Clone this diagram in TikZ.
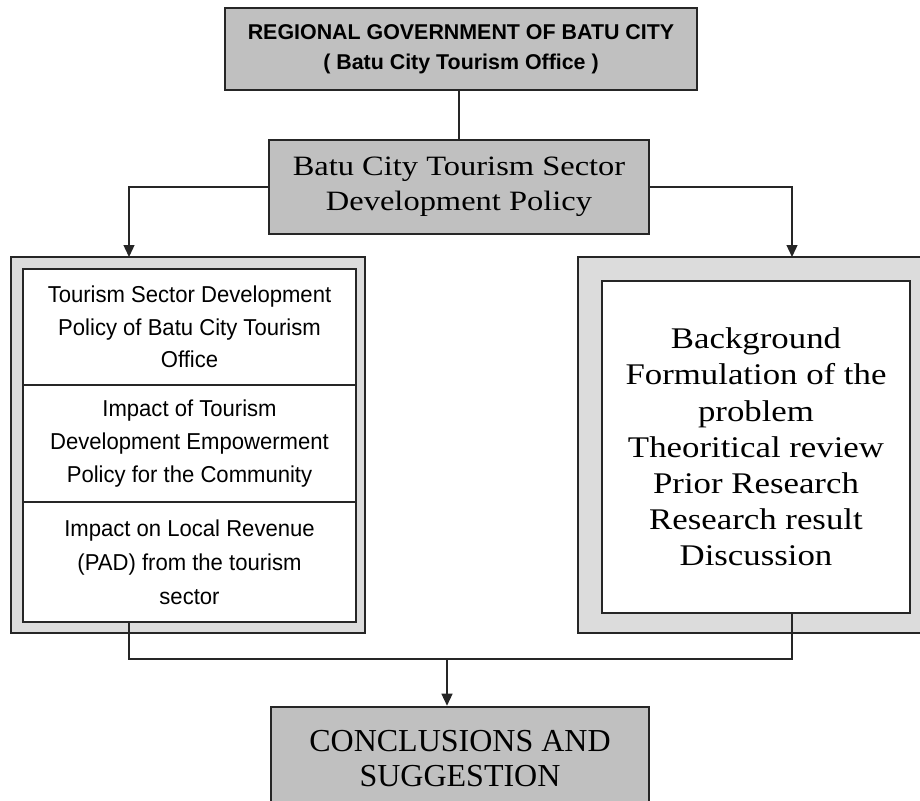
\documentclass[tikz,border=0pt]{standalone}
\usepackage{fontspec}
\setmainfont{Liberation Serif}
\newfontfamily\arialB{Liberation Sans}
\newfontfamily\arialN[FakeStretch=0.96]{Liberation Sans}
\newfontfamily\serifW[FakeStretch=1.16]{Liberation Serif}
\usetikzlibrary{arrows.meta}
\definecolor{boxgray}{HTML}{C0C0C0}
\definecolor{framegray}{HTML}{DCDCDC}
\definecolor{linec}{HTML}{262626}
\begin{document}
\begin{tikzpicture}[x=1pt,y=-1pt,
  box/.style={draw=linec, line width=1.3pt, inner sep=0pt, align=center},
  arr/.style={draw=linec, line width=1.3pt, -{Triangle[length=12pt,width=11pt]}},
  conn/.style={draw=linec, line width=1.3pt}]
\useasboundingbox (0,0) rectangle (920,800);

% top box
\node[box, fill=boxgray, minimum width=472pt, minimum height=82pt,
  font={\arialB\bfseries\fontsize{21.4}{30}\selectfont}] (top) at (461,49)
  {REGIONAL GOVERNMENT OF BATU CITY\\( Batu City Tourism Office )};

% policy box
\node[box, fill=boxgray, minimum width=380pt, minimum height=94pt,
  font={\serifW\fontsize{28}{35}\selectfont}] (pol) at (459,187)
  {Batu City Tourism Sector\\Development Policy};

% left frame
\node[box, fill=framegray, minimum width=354pt, minimum height=376pt] (louter) at (188,445) {};
\node[box, fill=white, minimum width=333pt, minimum height=116pt,
  font={\arialN\fontsize{23}{32.5}\selectfont}] (c1) at (189.5,327)
  {Tourism Sector Development\\Policy of Batu City Tourism\\Office};
\node[box, fill=white, minimum width=333pt, minimum height=117pt,
  font={\arialN\fontsize{23}{33}\selectfont}] (c2) at (189.5,443.5)
  {Impact of Tourism\\Development Empowerment\\Policy for the Community};
\node[box, fill=white, minimum width=333pt, minimum height=120pt,
  font={\arialN\fontsize{23}{34}\selectfont}] (c3) at (189.5,562)
  {Impact on Local Revenue\\(PAD) from the tourism\\sector};

% right frame
\node[box, fill=framegray, minimum width=352pt, minimum height=376pt] (router) at (754,445) {};
\node[box, fill=white, minimum width=308pt, minimum height=332pt,
  font={\serifW\fontsize{30}{36.2}\selectfont}] (rinner) at (756,447)
  {Background\\Formulation of the\\problem\\Theoritical review\\Prior Research\\Research result\\Discussion};

% conclusion box
\node[box, line width=2.6pt, fill=boxgray, minimum width=378pt, minimum height=104pt,
  font={\fontsize{32}{35}\selectfont}] (concl) at (460,759)
  {CONCLUSIONS AND\\SUGGESTION};

% coordinates
\coordinate (la) at (129,257);
\coordinate (ra) at (792,257);
\coordinate (jl) at (129,659);
\coordinate (jr) at (792,659);
\coordinate (jm) at (447,659);

% connectors
\draw[conn] (top.south -| pol.north) -- (pol.north);
\draw[arr] (pol.west) -| (la);
\draw[arr] (pol.east) -| (ra);
\draw[conn] (c3.south -| jl) -- (jl) -- (jr) -- (rinner.south -| jr);
\draw[arr] (jm) -- (jm |- concl.north);
\end{tikzpicture}
\end{document}
